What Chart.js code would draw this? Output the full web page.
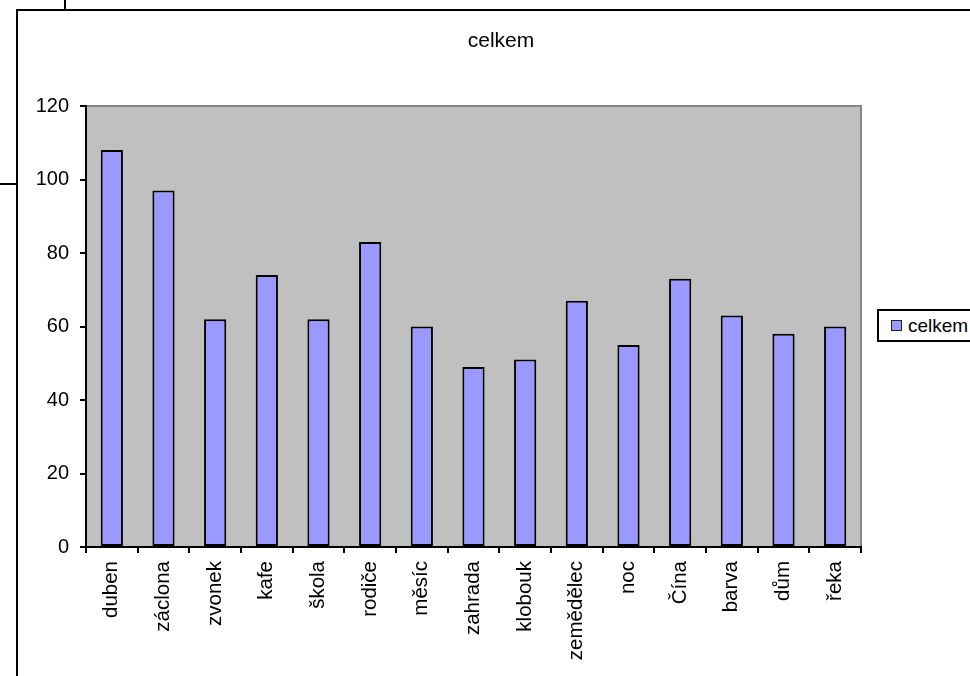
<!DOCTYPE html>
<html lang="cs">
<head>
<meta charset="utf-8">
<title>celkem</title>
<script src="https://cdn.jsdelivr.net/npm/chart.js@4"></script>
<style>
  html, body { margin: 0; padding: 0; background: #fff; overflow: hidden; }
  #wrap { position: relative; width: 970px; height: 676px; overflow: hidden; }
  #chart { position: absolute; left: 0; top: 0; }
  .rule { position: absolute; background: #000; }
  #legend {
    position: absolute; left: 877px; top: 309px; height: 33px; width: 110px;
    box-sizing: border-box; border: 2px solid #000; background: #fff;
    font-family: "Liberation Sans", Arial, sans-serif; font-size: 19px; color: #000;
    display: flex; align-items: center; white-space: nowrap;
  }
  #legend .swatch {
    width: 11px; height: 11px; box-sizing: border-box; border: 1px solid #222;
    margin-left: 12px; margin-right: 6px;
  }
</style>
</head>
<body>
<div id="wrap">
  <canvas id="chart" width="1002" height="676"></canvas>
  <!-- sheet frame lines around the chart object -->
  <div class="rule" style="left:16px; top:9px; width:2px; height:667px;"></div>
  <div class="rule" style="left:16px; top:9px; width:954px; height:2px;"></div>
  <div class="rule" style="left:64px; top:0; width:2px; height:10px;"></div>
  <div class="rule" style="left:0; top:183px; width:17px; height:2px;"></div>
  <div id="legend"></div>
</div>
<script>
const categories = ['duben', 'záclona', 'zvonek', 'kafe', 'škola', 'rodiče', 'měsíc', 'zahrada',
                    'klobouk', 'zemědělec', 'noc', 'Čína', 'barva', 'dům', 'řeka'];
const celkem = [108, 97, 62, 74, 62, 83, 60, 49, 51, 67, 55, 73, 63, 58, 60];
const seriesName = 'celkem';
const yTicks = [0, 20, 40, 60, 80, 100, 120];

const FONT = '"Liberation Sans", Arial, sans-serif';
Chart.defaults.color = '#000';
Chart.defaults.font.family = FONT;

// grey plot area with a darker edge along the top and right sides
const plotBackground = {
  id: 'plotBackground',
  beforeDraw(chart) {
    const { ctx, chartArea: a } = chart;
    ctx.save();
    ctx.fillStyle = '#c0c0c0';
    ctx.fillRect(a.left, a.top, a.right - a.left, a.bottom - a.top);
    ctx.strokeStyle = '#858585';
    ctx.lineWidth = 2;
    ctx.beginPath();
    ctx.moveTo(a.left, a.top);
    ctx.lineTo(a.right, a.top);
    ctx.lineTo(a.right, a.bottom);
    ctx.stroke();
    ctx.restore();
  }
};

const chart = new Chart(document.getElementById('chart'), {
  type: 'bar',
  data: {
    labels: categories,
    datasets: [{
      label: seriesName,
      data: celkem,
      backgroundColor: '#9999ff',
      borderColor: '#000',
      borderWidth: 2,
      borderSkipped: false,
      barPercentage: 0.43,
      categoryPercentage: 1
    }]
  },
  options: {
    responsive: false,
    animation: false,
    layout: { padding: 0 },
    plugins: {
      legend: { display: false },
      tooltip: { enabled: false },
      title: {
        display: true,
        text: seriesName,
        color: '#000',
        font: { size: 21, weight: 'normal', lineHeight: 1 },
        padding: { top: 31, bottom: 54 }
      }
    },
    scales: {
      x: {
        offset: true,
        grid: { offset: true, drawOnChartArea: false, drawTicks: true, tickLength: 6, color: '#000', lineWidth: 2 },
        border: { color: '#000', width: 2 },
        ticks: { autoSkip: false, minRotation: 90, maxRotation: 90, padding: 8, font: { size: 20.5 }, color: '#000' },
        afterFit(scale) { scale.height = 129; }
      },
      y: {
        min: yTicks[0],
        max: yTicks[yTicks.length - 1],
        afterBuildTicks(scale) { scale.ticks = yTicks.map(v => ({ value: v })); },
        grid: { drawOnChartArea: false, drawTicks: true, tickLength: 6, color: '#000', lineWidth: 2 },
        border: { color: '#000', width: 2 },
        ticks: { padding: 11, font: { size: 20 }, color: '#000' },
        afterFit(scale) { scale.width = 86; }
      },
      // empty right-hand band that holds the legend area
      side: {
        type: 'linear',
        position: 'right',
        grid: { display: false, drawTicks: false },
        border: { display: false },
        ticks: { display: false },
        afterFit(scale) { scale.width = 141; }
      }
    }
  },
  plugins: [plotBackground]
});

// legend entry built from the dataset
const legend = document.getElementById('legend');
chart.data.datasets.forEach(ds => {
  const sw = document.createElement('span');
  sw.className = 'swatch';
  sw.style.background = ds.backgroundColor;
  const txt = document.createElement('span');
  txt.textContent = ds.label;
  legend.appendChild(sw);
  legend.appendChild(txt);
});
</script>
</body>
</html>
